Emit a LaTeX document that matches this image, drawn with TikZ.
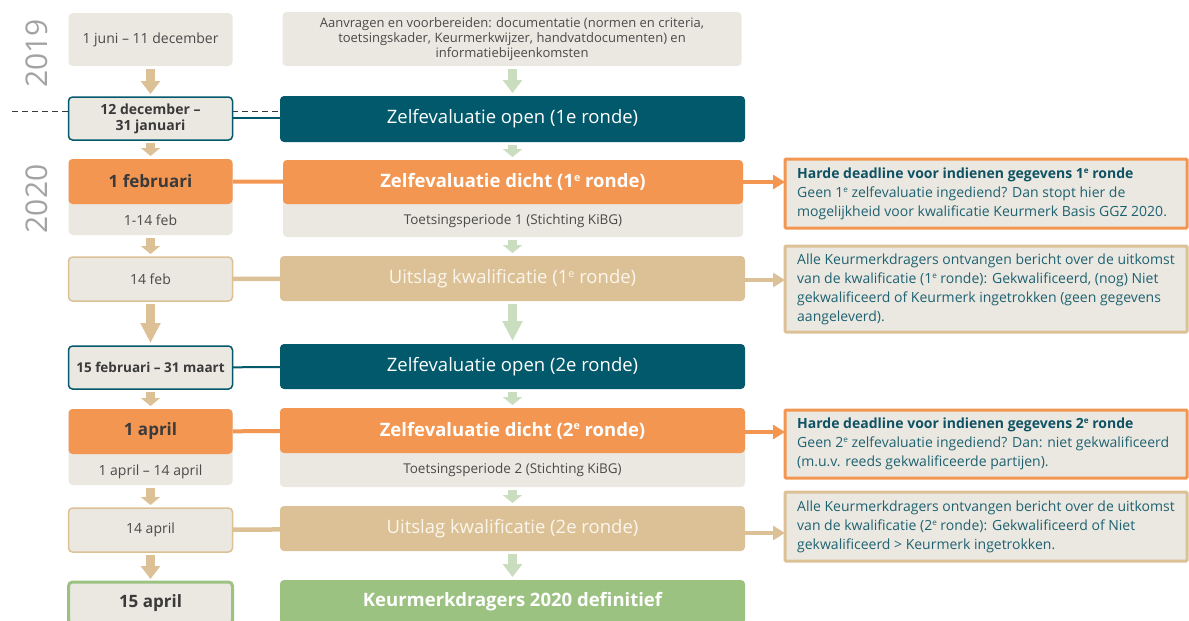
\documentclass[tikz,border=0pt]{standalone}
\usepackage{fontspec}
\setmainfont{Open Sans}
\usetikzlibrary{arrows.meta,backgrounds}
\definecolor{cLGray}{HTML}{EBE8E1}
\definecolor{cTeal}{HTML}{01596B}
\definecolor{cOrange}{HTML}{F29651}
\definecolor{cTan}{HTML}{DCC196}
\definecolor{cGreen}{HTML}{9CC282}
\definecolor{cLGreen}{HTML}{CADDBF}
\definecolor{cText}{HTML}{4A4A4A}
\definecolor{cDark}{HTML}{3A3A3A}
\definecolor{cRText}{HTML}{1E6272}
\definecolor{cRTitle}{HTML}{0F5263}
\definecolor{cCream}{HTML}{FBF6EC}
\definecolor{cYear}{HTML}{A3A3A3}
\newcommand\fsz[2]{\fontsize{#1}{#2}\selectfont}
\newcommand\sce{\raisebox{.62ex}{\scalebox{.58}{e}}}
\begin{document}
\begin{tikzpicture}[x=1pt,y=-1pt,
  base/.style={inner sep=0pt,outer sep=0pt,rounded corners=4pt,align=center},
  lcol/.style={base,minimum width=164pt},
  ccol/.style={base,minimum width=465pt},
  rcol/.style={base,rounded corners=1pt,minimum width=402pt,fill=cLGray,line width=3pt},
  rtxt/.style={inner sep=0pt,anchor=west,align=left,text=cRText,font=\fsz{14}{19}},
  gfill/.style={fill=cLGray,text=cText},
  datetxt/.style={font=\fsz{14}{17}},
  datebold/.style={font=\fsz{14}{16}\bfseries,text=cDark},
  datebig/.style={font=\fsz{17}{20}\bfseries,text=cDark},
  bigtxt/.style={font=\fsz{18.5}{22}},
  bigbold/.style={font=\fsz{18.5}{22}\bfseries},
  smalltxt/.style={font=\fsz{13.5}{16},text=cText},
  tanarrow/.style={draw=cTan,line width=9pt,shorten <=3pt,shorten >=3pt},
  grnarrow/.style={draw=cLGreen,line width=9pt,shorten <=3pt,shorten >=3pt},
  tipS/.style={-{Triangle[width=19pt,length=8pt]}},
  tipM/.style={-{Triangle[width=19pt,length=13pt]}},
  tipL/.style={-{Triangle[width=19pt,length=20pt]}},
  rtip/.style={-{Triangle[width=14pt,length=12pt]}},
  yeartxt/.style={font=\fsz{30}{32},text=cYear,rotate=90},
  dashline/.style={draw=cDark,line width=1pt,dash pattern=on 6pt off 4pt}
]
\clip (0,0) rectangle (1189,621);

% years
\node[yeartxt] (Y1) at (37,53.5) {2019};
\node[yeartxt] (Y2) at (37,199) {2020};

% left column
\node[lcol,gfill,minimum height=53pt,datetxt] (L1) at (150.5,39.5) {1 juni – 11 december};
\node[lcol,gfill,draw=cTeal,line width=1.5pt,minimum height=43pt,datebold] (L2) at (150.5,118.5) {12 december –\\31 januari};
\node[lcol,fill=cLGray,minimum height=76pt] (L3g) at (150.5,197) {};
\node[lcol,fill=cOrange,minimum height=45pt,datebig] (L3) at (150.5,181.5) {1 februari};
\node[datetxt,text=cText,inner sep=0pt] (L3t) at (150.5,220.5) {1-14 feb};
\node[lcol,gfill,draw=cTan,line width=1.5pt,minimum height=44pt,datetxt] (L4) at (150.5,279) {14 feb};
\node[lcol,gfill,draw=cTeal,line width=1.5pt,minimum height=43pt,font=\fsz{13.5}{16}\bfseries,text=cDark] (L5) at (150.5,367.5) {15 februari – 31 maart};
\node[lcol,fill=cLGray,minimum height=76pt] (L6g) at (150.5,447) {};
\node[lcol,fill=cOrange,minimum height=45pt,datebig] (L6) at (150.5,431.5) {1 april};
\node[datetxt,text=cText,inner sep=0pt] (L6t) at (150.5,471.5) {1 april – 14 april};
\node[lcol,gfill,draw=cTan,line width=1.5pt,minimum height=44pt,datetxt] (L7) at (150.5,530) {14 april};
\node[lcol,gfill,draw=cGreen,line width=3pt,minimum height=42pt,datebig] (L8) at (150.5,603) {15 april};

% center column
\node[base,minimum width=459pt,gfill,minimum height=54pt,font=\fsz{13}{14.8}] (C1) at (512,39) {Aanvragen en voorbereiden: documentatie (normen en criteria,\\toetsingskader, Keurmerkwijzer, handvatdocumenten) en\\informatiebijeenkomsten};
\node[ccol,fill=cTeal,text=white,minimum height=46pt,bigtxt] (C2) at (512.5,119) {Zelfevaluatie open (1e ronde)};
\node[base,minimum width=460pt,fill=cLGray,minimum height=77pt] (C3g) at (513,198.5) {};
\node[base,minimum width=460pt,fill=cOrange,text=white,minimum height=44pt,bigbold] (C3) at (513,182) {Zelfevaluatie dicht (1\sce\ ronde)};
\node[smalltxt,inner sep=0pt] (C3t) at (513,220.5) {Toetsingsperiode 1 (Stichting KiBG)};
\node[ccol,fill=cTan,text=cCream,minimum height=45pt,bigtxt] (C4) at (512.5,278.5) {Uitslag kwalificatie (1\sce\ ronde)};
\node[ccol,fill=cTeal,text=white,minimum height=45pt,bigtxt] (C5) at (512.5,366.5) {Zelfevaluatie open (2e ronde)};
\node[ccol,fill=cLGray,minimum height=79pt] (C6g) at (512.5,447.5) {};
\node[ccol,fill=cOrange,text=white,minimum height=45pt,bigbold] (C6) at (512.5,430.5) {Zelfevaluatie dicht (2\sce\ ronde)};
\node[smalltxt,inner sep=0pt] (C6t) at (512.5,470) {Toetsingsperiode 2 (Stichting KiBG)};
\node[ccol,fill=cTan,text=cCream,minimum height=45pt,bigtxt] (C7) at (512.5,528.5) {Uitslag kwalificatie (2e ronde)};
\node[ccol,fill=cGreen,text=white,minimum height=44pt,bigbold] (C8) at (512.5,602) {Keurmerkdragers 2020 definitief};

% right column
\node[rcol,draw=cOrange,minimum height=69pt] (R1) at (986,193.5) {};
\node[rtxt] (R1t) at (797,194) {{\bfseries\color{cRTitle}Harde deadline voor indienen gegevens 1\sce\ ronde}\\Geen 1\sce\ zelfevaluatie ingediend? Dan stopt hier de\\mogelijkheid voor kwalificatie Keurmerk Basis GGZ 2020.};
\node[rcol,draw=cTan,minimum height=86pt] (R2) at (986,289) {};
\node[rtxt] (R2t) at (797,289) {Alle Keurmerkdragers ontvangen bericht over de uitkomst\\van de kwalificatie (1\sce\ ronde): Gekwalificeerd, (nog) Niet\\gekwalificeerd of Keurmerk ingetrokken (geen gegevens\\aangeleverd).};
\node[rcol,draw=cOrange,minimum height=68pt] (R3) at (986,444) {};
\node[rtxt] (R3t) at (797,444) {{\bfseries\color{cRTitle}Harde deadline voor indienen gegevens 2\sce\ ronde}\\Geen 2\sce\ zelfevaluatie ingediend? Dan: niet gekwalificeerd\\(m.u.v. reeds gekwalificeerde partijen).};
\node[rcol,draw=cTan,minimum height=69pt] (R4) at (986,526.5) {};
\node[rtxt] (R4t) at (797,526.5) {Alle Keurmerkdragers ontvangen bericht over de uitkomst\\van de kwalificatie (2\sce\ ronde): Gekwalificeerd of Niet\\gekwalificeerd > Keurmerk ingetrokken.};

\coordinate (dA) at (12,111);
\coordinate (dB) at (280,111);

\begin{scope}[on background layer]
\draw[dashline] (dA) -- (dB);
\draw[draw=cTeal,line width=2pt] (L2.east |- 0,118) -- (C2.west |- 0,118);
\draw[draw=cOrange,line width=4pt] (L3) -- (C3);
\draw[draw=cTan,line width=4.5pt] (L4) -- (C4);
\draw[draw=cTeal,line width=2pt] (L5) -- (C5);
\draw[draw=cOrange,line width=4pt] (L6) -- (C6);
\draw[draw=cTan,line width=4.5pt] (L7) -- (C7);
\end{scope}

% right arrows
\draw[draw=cOrange,line width=4pt,rtip] (C3.east) -- (C3.east -| R1.west);
\draw[draw=cTan,line width=4.5pt,rtip] (C4.east |- 0,280) -- (R2.west |- 0,280);
\draw[draw=cOrange,line width=4pt,rtip] (C6.east |- 0,432) -- (R3.west |- 0,432);
\draw[draw=cTan,line width=4.5pt,rtip] (C7.east |- 0,533) -- (R4.west |- 0,533);

% block arrows left
\draw[tanarrow,tipM] (L1) -- (L2);
\draw[tanarrow,tipS] (L2) -- (L3g);
\draw[tanarrow,tipS] (L3g) -- (L4);
\draw[tanarrow,tipL] (L4) -- (L5);
\draw[tanarrow,tipS] (L5) -- (L6g);
\draw[tanarrow,tipS] (L6g) -- (L7);
\draw[tanarrow,tipM] (L7) -- (L8);
% block arrows centre
\draw[grnarrow,tipM] (C1.south -| C2.south) -- (C2);
\draw[grnarrow,tipS] (C2) -- (C3g.north -| C2.south);
\draw[grnarrow,tipS] (C3g.south -| C2.south) -- (C4);
\draw[grnarrow,tipL] (C4) -- (C5);
\draw[grnarrow,tipS] (C5) -- (C6g);
\draw[grnarrow,tipS] (C6g) -- (C7);
\draw[grnarrow,tipM] (C7) -- (C8);
\end{tikzpicture}
\end{document}
